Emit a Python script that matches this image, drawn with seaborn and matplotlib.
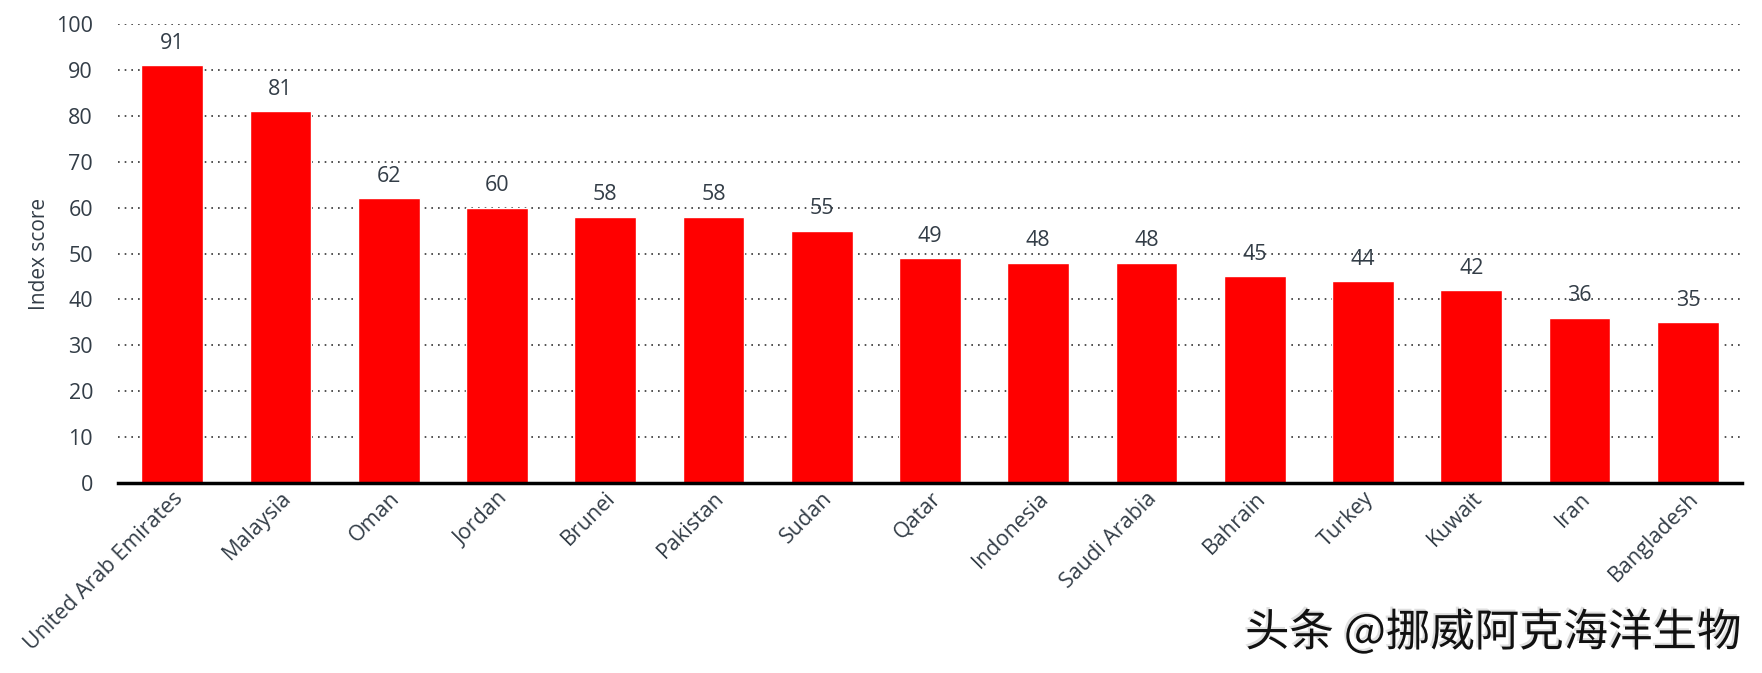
import matplotlib
matplotlib.use("Agg")
import matplotlib.pyplot as plt
import matplotlib.patheffects as pe
import pandas as pd
import seaborn as sns

# Данные
countries = ["United Arab Emirates", "Malaysia", "Oman", "Jordan", "Brunei",
             "Pakistan", "Sudan", "Qatar", "Indonesia", "Saudi Arabia",
             "Bahrain", "Turkey", "Kuwait", "Iran", "Bangladesh"]
scores = [91, 81, 62, 60, 58, 58, 55, 49, 48, 48, 45, 44, 42, 36, 35]
y_ticks = [0, 10, 20, 30, 40, 50, 60, 70, 80, 90, 100]

df = pd.DataFrame({"country": countries, "score": scores})

sns.set_style("white")
plt.rcParams['font.family'] = ['Open Sans', 'Noto Sans CJK SC', 'DejaVu Sans']
text_color = "#333d47"

fig = plt.figure(figsize=(17.62, 6.73), dpi=100)
ax = fig.add_axes([118 / 1762, 1 - 483 / 673, (1742 - 118) / 1762, (483 - 24) / 673])

sns.barplot(data=df, x="country", y="score", color="#ff0000", saturation=1,
            width=0.57, ax=ax, zorder=3)

ax.set_ylim(0, 100)
ax.set_xlim(-0.5, len(countries) - 0.5)
ax.set_yticks(y_ticks)
ax.yaxis.grid(True, linestyle=(0, (1, 3)), color="#333333", linewidth=1.2, zorder=0)
ax.xaxis.grid(False)
for s in ["top", "right", "left"]:
    ax.spines[s].set_visible(False)
ax.spines["bottom"].set_linewidth(2.5)
ax.spines["bottom"].set_color("black")
ax.spines["bottom"].set_zorder(4)
ax.tick_params(axis="both", length=0, labelsize=15.5, labelcolor=text_color)
ax.tick_params(axis="y", pad=18)
ax.set_xticks(range(len(countries)))
ax.set_xticklabels(countries, rotation=45, ha="right", rotation_mode="anchor")

ax.set_xlabel("")
ax.set_ylabel("Index score", fontsize=15, color=text_color, labelpad=4,
              fontweight="normal")

# Подписи значений над столбцами
for i, v in enumerate(scores):
    ax.text(i, v + 2.5, str(v), ha="center", va="bottom", fontsize=15.5,
            color=text_color)

# Водяной знак
fig.text(1742 / 1762, 1 - 633 / 673, "头条 @挪威阿克海洋生物", ha="right", va="center",
         fontsize=32, color="#111111", fontweight="normal",
         family=['Noto Sans CJK SC', 'DejaVu Sans'],
         path_effects=[pe.withSimplePatchShadow(offset=(-1.5, 1.5), shadow_rgbFace="#cccccc", alpha=0.6)])

fig.savefig("out.png", dpi=100)
